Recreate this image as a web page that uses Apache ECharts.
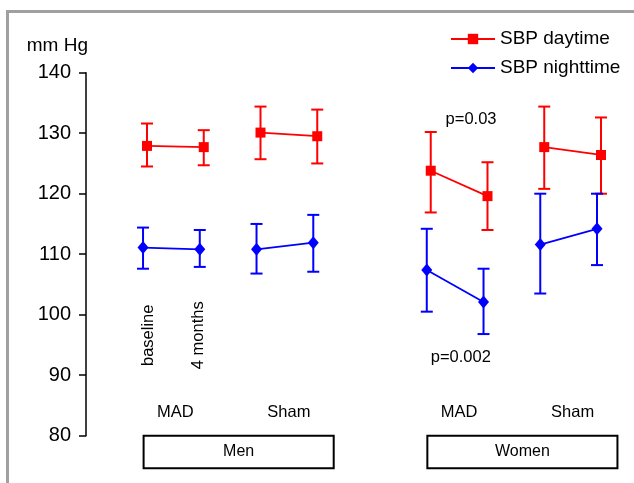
<!DOCTYPE html>
<html>
<head>
<meta charset="utf-8">
<script src="https://cdn.jsdelivr.net/npm/echarts@6/dist/echarts.min.js"></script>
<style>
  html, body { margin: 0; padding: 0; background: #fff; }
  #main { width: 634px; height: 483px; }
</style>
</head>
<body>
<div id="main"></div>
<script>
// categories
const sexes = ['Men', 'Women']
const groups = ['MAD', 'Sham']
const timepoints = ['baseline', '4 months']

// order: Men MAD base, Men MAD 4mo, Men Sham base, Men Sham 4mo, Women MAD ..., Women Sham ...
const dayMean = [127.9, 127.7, 130.1, 129.5, 123.8, 119.6, 127.7, 126.4]
const dayHigh = [131.6, 130.5, 134.4, 133.9, 130.2, 125.2, 134.4, 132.6]
const dayLow = [124.5, 124.7, 125.7, 125.0, 116.9, 114.0, 120.8, 120.0]

const nightMean = [111.1, 110.8, 110.8, 111.9, 107.4, 102.1, 111.6, 114.2]
const nightHigh = [114.4, 114.0, 115.0, 116.5, 114.2, 107.6, 120.0, 120.0]
const nightLow = [107.6, 107.9, 106.8, 107.1, 100.5, 96.8, 103.5, 108.2]

const yTicks = [80, 90, 100, 110, 120, 130, 140]
const pValues = ['p=0.03', 'p=0.002']

const FONT = '"Liberation Sans", Arial, sans-serif'
const RED = '#ff0000'
const BLUE = '#0000ff'

// x slot of each point: a gap slot separates men and women
const xs = []
sexes.forEach((s, si) => groups.forEach((g, gi) => timepoints.forEach((t, ti) => {
  xs.push(si * 5 + gi * 2 + ti)
})))

function lineData(mean, shift) {
  const out = []
  mean.forEach((v, i) => {
    out.push([xs[i] + shift, v])
    if (i % 2 === 1 && i < mean.length - 1) out.push([xs[i] + 0.5, '-'])
  })
  return out
}

function barData(low, high, shift) {
  return low.map((lo, i) => [xs[i] + shift, lo, high[i]])
}

function errorBars(color) {
  return function (params, api) {
    const x = api.value(0)
    const top = api.coord([x, api.value(2)])
    const bot = api.coord([x, api.value(1)])
    const hw = 6
    const st = { stroke: color, lineWidth: 2 }
    return {
      type: 'group',
      children: [
        { type: 'line', shape: { x1: top[0], y1: top[1], x2: bot[0], y2: bot[1] }, style: st },
        { type: 'line', shape: { x1: top[0] - hw, y1: top[1], x2: top[0] + hw, y2: top[1] }, style: st },
        { type: 'line', shape: { x1: bot[0] - hw, y1: bot[1], x2: bot[0] + hw, y2: bot[1] }, style: st }
      ]
    }
  }
}

const nightShift = -0.07

// text annotations in data coordinates
const annotations = []
annotations.push({ text: timepoints[0], x: 0.02, y: 96.6, rotate: true })
annotations.push({ text: timepoints[1], x: 0.9, y: 96.6, rotate: true })
sexes.forEach((s, si) => groups.forEach((g, gi) => {
  annotations.push({ text: g, x: si * 5 + gi * 2 + 0.5, y: 83.9 })
}))
annotations.push({ text: pValues[0], x: 5.71, y: 132.2 })
annotations.push({ text: pValues[1], x: 5.53, y: 93.0 })

const option = {
  animation: false,
  textStyle: { fontFamily: FONT },
  graphic: [
    {
      type: 'polyline',
      shape: { points: [[7.5, 483], [7.5, 11.5], [634, 11.5]] },
      style: { stroke: '#a0a0a0', lineWidth: 3, fill: null }
    }
  ],
  grid: { left: 86, right: 14, top: 72.7, bottom: 47.3, containLabel: false },
  legend: {
    orient: 'vertical',
    left: 450,
    top: 29,
    padding: 0,
    itemWidth: 44,
    itemHeight: 13,
    itemGap: 9,
    data: ['SBP daytime', 'SBP nighttime'],
    textStyle: { fontSize: 19, color: '#000', fontFamily: FONT, lineHeight: 20 }
  },
  xAxis: {
    type: 'value',
    min: -1.075,
    max: 8.335,
    show: false
  },
  yAxis: {
    type: 'value',
    min: yTicks[0],
    max: yTicks[yTicks.length - 1],
    interval: 10,
    name: 'mm Hg',
    nameLocation: 'end',
    nameGap: 17,
    nameTextStyle: { fontSize: 19, color: '#000', align: 'right', padding: [0, -2, 0, 0] },
    axisLine: { show: true, onZero: false, lineStyle: { color: '#000', width: 1.5 } },
    axisTick: { show: true, length: 7, lineStyle: { color: '#000', width: 1.5 } },
    axisLabel: { fontSize: 20, color: '#000', margin: 15 },
    splitLine: { show: false }
  },
  series: [
    {
      type: 'custom',
      name: 'day bars',
      renderItem: errorBars(RED),
      encode: { x: 0, y: [1, 2] },
      data: barData(dayLow, dayHigh, 0),
      z: 2
    },
    {
      type: 'custom',
      name: 'night bars',
      renderItem: errorBars(BLUE),
      encode: { x: 0, y: [1, 2] },
      data: barData(nightLow, nightHigh, nightShift),
      z: 2
    },
    {
      type: 'line',
      name: 'SBP daytime',
      data: lineData(dayMean, 0),
      symbol: 'rect',
      symbolSize: 10,
      itemStyle: { color: RED },
      lineStyle: { color: RED, width: 1.8 },
      connectNulls: false,
      z: 3
    },
    {
      type: 'line',
      name: 'SBP nighttime',
      data: lineData(nightMean, nightShift),
      symbol: 'diamond',
      symbolSize: [11, 13],
      itemStyle: { color: BLUE },
      lineStyle: { color: BLUE, width: 1.8 },
      connectNulls: false,
      z: 3
    },
    {
      type: 'custom',
      name: 'boxes',
      clip: false,
      silent: true,
      encode: { x: 0, y: 1 },
      data: sexes.map((s, si) => [si * 5, 80, s]),
      renderItem: function (params, api) {
        const x0 = api.value(0)
        const a = api.coord([x0 - 0.06, 80])
        const b = api.coord([x0 + 3.29, 74.6])
        return {
          type: 'group',
          children: [
            {
              type: 'rect',
              shape: { x: a[0], y: a[1], width: b[0] - a[0], height: b[1] - a[1] },
              style: { fill: '#fff', stroke: '#000', lineWidth: 2 }
            },
            {
              type: 'text',
              style: {
                x: (a[0] + b[0]) / 2, y: (a[1] + b[1]) / 2,
                text: sexes[params.dataIndex], align: 'center', verticalAlign: 'middle',
                fontSize: 16, fontFamily: FONT, fill: '#000'
              }
            }
          ]
        }
      }
    },
    {
      type: 'custom',
      name: 'labels',
      clip: false,
      silent: true,
      encode: { x: 0, y: 1 },
      data: annotations.map(a => [a.x, a.y]),
      renderItem: function (params, api) {
        const a = annotations[params.dataIndex]
        const p = api.coord([a.x, a.y])
        return {
          type: 'text',
          x: p[0], y: p[1],
          rotation: a.rotate ? Math.PI / 2 : 0,
          style: {
            x: 0, y: 0, text: a.text, align: 'center', verticalAlign: 'middle',
            fontSize: 16.5, fontFamily: FONT, fill: '#000'
          }
        }
      }
    }
  ]
}

const chart = echarts.init(document.getElementById('main'))
chart.setOption(option)
</script>
</body>
</html>
